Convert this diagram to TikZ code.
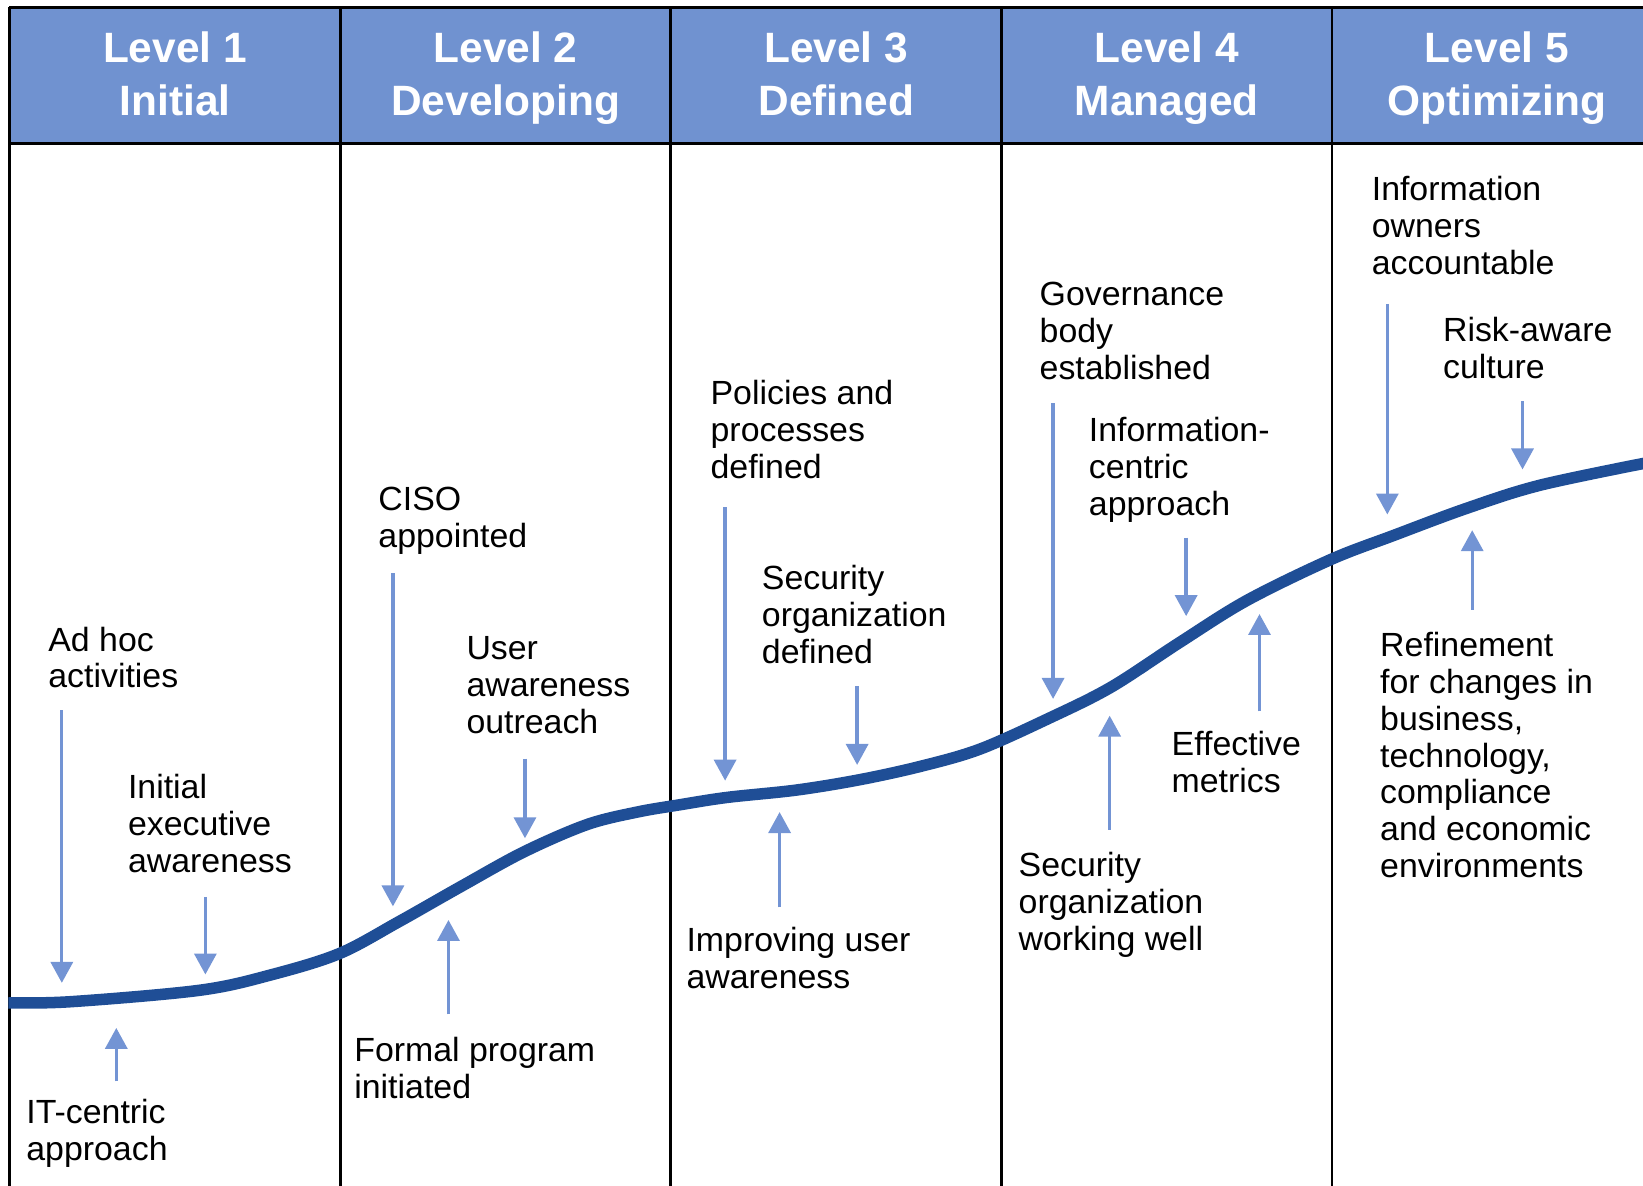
\documentclass[tikz,border=0pt]{standalone}
\usepackage{fontspec}
\setmainfont[FakeStretch=1.01]{Liberation Sans}
\newfontfamily\hdrfont{Liberation Sans}
\usetikzlibrary{arrows.meta}
\definecolor{hdrblue}{RGB}{112,146,208}
\definecolor{curveblue}{RGB}{31,78,150}
\definecolor{arrblue}{RGB}{115,148,212}
\begin{document}
\begin{tikzpicture}[x=1pt,y=-1pt,
  lbl/.style={anchor=north west, inner sep=0pt, align=left, font=\fontsize{32}{35.2}\selectfont},
  hdr/.style={anchor=north, inner sep=0pt, align=center, text=white, font=\hdrfont\fontsize{40.5}{50}\selectfont\bfseries},
  marker/.style={draw=arrblue, line width=3.2pt, -{Triangle[width=21pt,length=20pt]}},
  border/.style={draw=black, line width=2.5pt}]
\useasboundingbox (0,0) rectangle (1568,1131);
\begin{scope}
\clip (0,0) rectangle (1568,1131);
% header band
\fill[hdrblue] (9,7) rectangle (1570,137);
\draw[border] (9,7) -- (1570,7);
\draw[border] (9,137) -- (1570,137);
\draw[border] (9,7) -- (9,1133);
\foreach \x in {325,640,956,1271} { \draw[border] (\x,7) -- (\x,1133); }
% header texts
\node[hdr] (h1) at (167,30.5) {Level 1\\Initial};
\node[hdr] (h2) at (482.5,30.5) {Level 2\\Developing};
\node[hdr] (h3) at (798,30.5) {Level 3\\Defined};
\node[hdr] (h4) at (1113.5,30.5) {Level 4\\Managed};
\node[hdr] (h5) at (1428.5,30.5) {Level 5\\Optimizing};
% maturity curve
\draw[curveblue, line width=11pt] plot[smooth, tension=0.55] coordinates {
 (8,957) (67,956) (191,945) (260,930) (324,910) (380,880) (440,846) (500,813)
 (560,787) (608,775) (649,768) (694,761) (760,754) (821,744) (880,731) (935,715)
 (1000,686) (1060,656) (1126,613) (1190,573) (1270,534)
 (1330,511) (1400,485) (1470,463) (1575,441)};
% labels
\node[lbl] (adhoc) at (46,598) {Ad hoc\\activities};
\node[lbl] (exec) at (122,739) {Initial\\executive\\awareness};
\node[lbl] (itc) at (25,1049) {IT-centric\\approach};
\node[lbl] (ciso) at (361,465) {CISO\\appointed};
\node[lbl] (user) at (445,607) {User\\awareness\\outreach};
\node[lbl] (formal) at (338,990) {Formal program\\initiated};
\node[lbl] (policies) at (678,363) {Policies and\\processes\\defined};
\node[lbl] (secdef) at (727,539) {Security\\organization\\defined};
\node[lbl] (improving) at (655,885) {Improving user\\awareness};
\node[lbl] (gov) at (992,269) {Governance\\body\\established};
\node[lbl] (infoc) at (1039,398) {Information-\\centric\\approach};
\node[lbl] (secwell) at (972,813) {Security\\organization\\working well};
\node[lbl] (metrics) at (1118,698) {Effective\\metrics};
\node[lbl] (owners) at (1309,168) {Information\\owners\\accountable};
\node[lbl] (risk) at (1377,303) {Risk-aware\\culture};
\node[lbl] (refine) at (1317,603) {Refinement\\for changes in\\business,\\technology,\\compliance\\and economic\\environments};
% arrow end points
\coordinate (a1s) at (59,678);   \coordinate (a1e) at (59,938);
\coordinate (a2s) at (196,856);  \coordinate (a2e) at (196,930);
\coordinate (a3s) at (111,1032); \coordinate (a3e) at (111,981);
\coordinate (a4s) at (375,547);  \coordinate (a4e) at (375,865);
\coordinate (a5s) at (501,724);  \coordinate (a5e) at (501,800);
\coordinate (a6s) at (428,968);  \coordinate (a6e) at (428,878);
\coordinate (a7s) at (692,484);  \coordinate (a7e) at (692,745);
\coordinate (a8s) at (818,655);  \coordinate (a8e) at (818,730);
\coordinate (a9s) at (744,866);  \coordinate (a9e) at (744,775);
\coordinate (a10s) at (1005,385); \coordinate (a10e) at (1005,667);
\coordinate (a11s) at (1132,513); \coordinate (a11e) at (1132,588);
\coordinate (a12s) at (1059,792); \coordinate (a12e) at (1059,683);
\coordinate (a13s) at (1202,679); \coordinate (a13e) at (1202,586);
\coordinate (a14s) at (1324,290); \coordinate (a14e) at (1324,491);
\coordinate (a15s) at (1453,383); \coordinate (a15e) at (1453,448);
\coordinate (a16s) at (1405,582); \coordinate (a16e) at (1405,506);
\foreach \i in {1,...,16} { \draw[marker] (a\i s) -- (a\i e); }
\end{scope}
\end{tikzpicture}
\end{document}
